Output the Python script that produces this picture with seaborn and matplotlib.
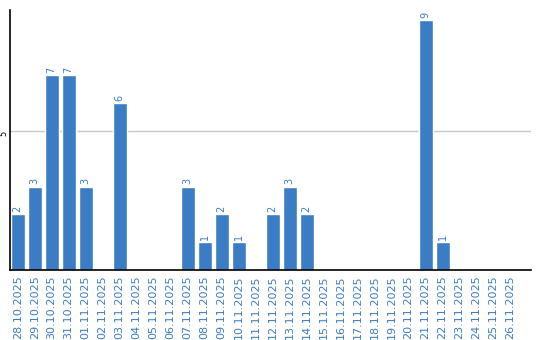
import matplotlib
matplotlib.use("Agg")
import matplotlib.pyplot as plt
import seaborn as sns
import pandas as pd

dates = ["28.10.2025", "29.10.2025", "30.10.2025", "31.10.2025", "01.11.2025",
         "02.11.2025", "03.11.2025", "04.11.2025", "05.11.2025", "06.11.2025",
         "07.11.2025", "08.11.2025", "09.11.2025", "10.11.2025", "11.11.2025",
         "12.11.2025", "13.11.2025", "14.11.2025", "15.11.2025", "16.11.2025",
         "17.11.2025", "18.11.2025", "19.11.2025", "20.11.2025", "21.11.2025",
         "22.11.2025", "23.11.2025", "24.11.2025", "25.11.2025", "26.11.2025"]
values = [2, 3, 7, 7, 3, 0, 6, 0, 0, 0, 3, 1, 2, 1, 0, 2, 3, 2, 0, 0,
          0, 0, 0, 0, 9, 1, 0, 0, 0, 0]

df = pd.DataFrame({"date": dates, "value": values})

sns.set_style("white")
plt.rcParams['font.family'] = ['DejaVu Sans']

W, H = 540, 340
fig = plt.figure(figsize=(W / 100, H / 100), dpi=100)
ax = fig.add_axes([10 / W, (H - 270) / H, (531 - 10) / W, (270 - 10) / H])

blue = "#3b7dc4"
sns.barplot(data=df, x="date", y="value", color=blue, saturation=1,
            width=0.82, ax=ax, order=dates)

ax.set_xlim(-0.45, 30.2)
ax.set_ylim(0, 9.35)
ax.set_yticks([5])
ax.set_yticklabels(["5"], rotation=90, fontsize=6, va="top", color="black")
ax.yaxis.grid(True, color="#c8c8c8", linewidth=1)
ax.set_axisbelow(True)
ax.tick_params(axis="y", length=0, pad=1)
ax.tick_params(axis="x", length=0, pad=4)
ax.set_xticks(range(len(dates)))
ax.set_xticklabels(dates, rotation=90, fontsize=8, color=blue)
ax.set_xlabel("")
ax.set_ylabel("")

for s in ["top", "right"]:
    ax.spines[s].set_visible(False)
for s in ["left", "bottom"]:
    ax.spines[s].set_color("black")
    ax.spines[s].set_linewidth(1.2)

for i, v in enumerate(values):
    if v > 0:
        ax.text(i, v + 0.08, str(v), rotation=90, ha="center", va="bottom",
                fontsize=7, color=blue)

fig.savefig("out.png", dpi=100)
